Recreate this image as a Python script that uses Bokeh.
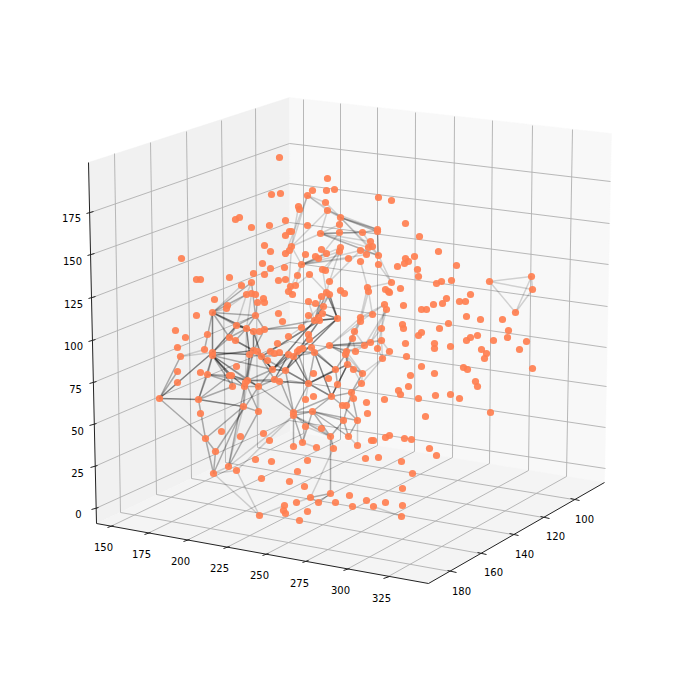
from bokeh.plotting import figure
from bokeh.models import Range1d
from bokeh.core.properties import value
from bokeh.embed import file_html
from bokeh.resources import INLINE

# Screen positions (px) of the projected 3D chart
node_xy = [
(279,157),(327,178),(312,190),(326,190),(334,189),(271,194),(280,193),(307,195),(325,202),(298,206),(299,209),(327,210),(340,217),
(235,219),(239,217),(285,220),(339,224),(269,225),(251,227),(307,225),(289,231),(291,231),(285,235),(320,233),(339,232),(264,245),(270,251),
(291,246),(289,250),(285,253),(305,254),(321,249),(326,253),(340,247),(339,251),(315,256),(318,258),(348,258),(181,258),(262,263),(270,268),
(284,267),(301,264),(322,269),(325,270),(253,273),(264,274),(297,275),(309,274),(196,279),(200,279),(229,277),(278,280),(285,279),(329,281),
(241,285),(251,282),(290,286),(295,285),(288,291),(292,294),(340,290),(344,293),(326,292),(329,294),(321,296),(246,294),(251,293),(255,294),
(263,298),(264,302),(257,302),(214,299),(308,301),(315,303),(323,306),(227,305),(226,308),(212,312),(196,315),(255,315),(278,313),(282,321),
(308,315),(322,313),(318,317),(314,320),(319,320),(337,318),(236,325),(246,328),(253,331),(259,331),(264,329),(301,327),(175,330),(207,334),
(185,337),(288,336),(308,334),(309,339),
(378,197),(391,200),(405,223),(419,236),(377,229),(377,231),(362,232),(370,241),(372,246),(368,247),(360,250),(366,254),(378,255),(360,261),
(438,251),(414,256),(405,258),(408,261),(404,263),(397,266),(378,264),(456,265),(417,269),(418,276),(391,282),(436,283),(441,281),(451,280),
(489,281),(531,276),(532,289),(515,312),(367,287),(368,291),(385,289),(388,291),(389,292),(400,288),(470,294),(446,298),(442,303),(433,304),
(459,301),(465,301),(384,304),(386,309),(403,305),(421,309),(426,309),(372,314),(360,317),(360,321),(466,316),(480,319),(502,319),(402,324),
(403,328),(448,323),(439,328),(508,330),(421,332),(418,335),(354,331),(381,328),(352,338),(381,340),(466,340),(470,337),(477,335),(493,340),
(507,337),(526,341),(405,343),(434,343),(434,348),(450,346),(481,349),(486,353),(484,358),(519,349),(389,351),(406,356),(421,366),(434,373),
(463,367),(467,369),(532,368),(410,375),(408,386),(398,390),(400,394),(475,381),(477,386),(418,398),(435,395),(450,394),(459,398),(490,412),(425,416),
(229,337),(235,340),(177,347),(180,356),(204,349),(212,352),(212,355),(249,354),(253,350),(257,351),(261,356),(270,351),(274,353),(279,352),
(277,343),(267,360),(236,366),(177,371),(200,372),(207,374),(272,369),(229,375),(231,375),(274,379),(279,381),(177,382),(247,380),(245,382),
(232,386),(244,386),(258,386),(159,398),(198,399),(243,406),(258,411),(200,413),(221,431),
(288,354),(293,356),(297,351),(302,348),(299,349),(311,347),(314,352),(329,345),(346,351),(345,354),(355,351),(364,345),(370,342),(377,348),
(382,358),(347,364),(335,369),(353,369),(285,370),(313,373),(328,378),(362,373),(361,383),(308,383),(337,384),(351,392),(331,396),(353,398),
(305,399),(313,396),(366,402),(384,399),(367,413),(342,405),(346,405),(312,411),(293,412),(293,415),(343,420),(357,420),(305,426),(321,428),
(205,438),(240,436),(263,433),(269,440),(302,442),(293,446),(316,447),(215,451),(228,466),(236,470),(213,473),(255,459),(271,461),(307,460),
(297,471),(261,478),(289,481),(304,486),(310,497),(318,502),(296,502),(284,505),(283,510),(285,513),(307,511),(259,515),(299,520),
(330,436),(348,436),(333,448),(357,445),(371,440),(373,440),(385,437),(389,435),(404,438),(411,439),(429,448),(436,455),(365,458),(378,457),
(401,461),(412,473),(402,488),(330,493),(349,495),(335,502),(366,500),(385,502),(352,506),(373,506),(402,505),(401,516),
]
node_x = [a for a, b in node_xy]
node_y = [b for a, b in node_xy]

edges_dark = [
((159,398),(198,399)),((159,398),(212,352)),((212,312),(212,352)),((212,352),(249,354)),((212,355),(253,350)),((212,355),(229,375)),
((212,355),(231,375)),((198,399),(243,406)),((231,375),(244,386)),((231,375),(247,380)),((247,380),(258,386)),((246,328),(253,331)),
((212,312),(246,328)),((253,331),(253,350)),((257,351),(272,369)),((261,356),(272,369)),((272,369),(285,370)),((272,369),(288,354)),
((274,379),(288,354)),((285,370),(299,349)),((272,369),(314,320)),((285,370),(337,318)),((261,356),(319,320)),((297,351),(319,320)),
((299,349),(337,318)),((314,320),(337,318)),((322,313),(337,318)),((326,292),(337,318)),((329,294),(337,318)),((293,356),(308,383)),
((314,352),(335,369)),((314,352),(331,396)),((308,383),(331,396)),((308,383),(347,364)),((331,396),(347,364)),((212,352),(236,325)),
((280,381),(308,383)),((246,328),(249,354)),((253,331),(261,356)),((236,325),(246,328)),((285,370),(308,383)),((293,356),(302,348)),
]
edges_mid = [
((159,398),(177,371)),((159,398),(205,438)),((159,398),(180,356)),((212,312),(204,349)),((212,312),(236,325)),((212,312),(255,315)),
((212,312),(229,337)),((212,352),(229,337)),((212,355),(232,386)),((212,355),(272,369)),((212,355),(247,380)),((212,355),(258,386)),
((198,399),(212,355)),((198,399),(207,374)),((198,399),(229,375)),((198,399),(232,386)),((207,374),(229,375)),((207,374),(212,355)),
((207,374),(244,386)),((207,374),(247,380)),((231,375),(232,386)),((244,386),(258,386)),((244,386),(243,406)),((245,382),(258,411)),
((243,406),(258,411)),((247,380),(272,369)),((236,325),(253,331)),((236,325),(255,315)),((246,328),(255,315)),((229,337),(236,325)),
((229,337),(246,328)),((229,337),(253,350)),((235,340),(246,328)),((235,340),(253,350)),((255,315),(264,329)),((251,282),(255,315)),
((246,294),(212,312)),((212,312),(251,282)),((264,329),(301,327)),((264,329),(314,320)),((249,354),(261,356)),((257,351),(274,379)),
((249,354),(247,380)),((249,354),(245,382)),((253,350),(244,386)),((261,356),(285,370)),((274,379),(280,381)),((285,370),(274,379)),
((285,370),(293,356)),((261,356),(288,354)),((272,369),(302,348)),((314,352),(308,383)),((297,351),(308,383)),((314,352),(293,356)),
((302,348),(311,347)),((311,347),(314,352)),((297,351),(314,352)),((311,347),(335,369)),((308,383),(335,369)),((308,383),(293,412)),
((293,412),(312,411)),((293,415),(312,411)),((312,411),(331,396)),((331,396),(351,392)),((331,396),(342,405)),((342,405),(357,420)),
((312,411),(343,420)),((312,411),(357,420)),((351,392),(357,420)),((351,392),(343,420)),((335,369),(337,384)),((337,384),(331,396)),
((347,364),(337,384)),((345,354),(335,369)),((346,351),(347,364)),((345,354),(347,364)),((347,364),(362,373)),((362,373),(351,392)),
((361,383),(351,392)),((329,345),(370,342)),((329,345),(364,345)),((329,345),(345,354)),((314,352),(329,345)),((329,345),(346,351)),
((205,438),(198,399)),((205,438),(215,451)),((205,438),(213,473)),((215,451),(213,473)),((205,438),(243,406)),((213,473),(243,406)),
((228,466),(258,411)),((228,466),(244,386)),((215,451),(258,386)),((293,412),(280,381)),((293,412),(285,370)),((258,386),(293,412)),
((293,412),(331,396)),((308,315),(314,320)),((323,306),(314,320)),((326,292),(314,320)),((321,296),(314,320)),((329,294),(314,320)),
((319,320),(337,318)),((293,415),(302,442)),((293,415),(293,446)),((312,411),(302,442)),((312,411),(330,436)),((312,411),(348,436)),
((293,415),(330,436)),((343,420),(330,436)),((343,420),(348,436)),((357,420),(348,436)),((330,436),(333,448)),((330,436),(330,493)),
((330,493),(310,497)),((330,493),(318,502)),((247,380),(274,379)),((258,386),(272,369)),((258,386),(274,379)),((247,380),(280,381)),
((340,217),(377,229)),((340,217),(377,231)),((377,231),(378,255)),((320,233),(362,232)),((320,233),(378,255)),((264,329),(253,350)),
]
edges_light = [
((180,356),(204,349)),((180,356),(212,352)),((246,294),(226,308)),((212,312),(226,308)),((251,282),(246,294)),((257,302),(255,315)),
((246,294),(236,325)),((251,293),(246,328)),((241,285),(212,312)),((247,380),(253,350)),((245,382),(246,328)),((243,406),(247,380)),
((258,386),(258,411)),((308,383),(305,399)),((342,405),(353,398)),((353,369),(362,373)),((347,364),(353,369)),((362,373),(361,383)),
((362,373),(382,358)),((361,383),(382,358)),((382,358),(389,351)),((381,340),(382,358)),((377,348),(382,358)),((381,340),(389,351)),
((381,340),(377,348)),((370,342),(381,340)),((364,345),(370,342)),((364,345),(346,351)),((355,351),(364,345)),((346,351),(355,351)),
((329,345),(381,340)),((345,354),(361,383)),((345,354),(362,373)),((346,351),(362,373)),((360,317),(345,351)),((360,321),(346,351)),
((360,321),(329,345)),((360,317),(329,345)),((384,304),(360,321)),((384,304),(360,317)),((386,309),(381,328)),((384,304),(381,328)),
((386,309),(370,342)),((381,328),(377,348)),((381,340),(381,328)),((381,328),(370,342)),((386,309),(364,345)),((354,331),(345,351)),
((352,338),(346,351)),((354,331),(364,345)),((352,338),(355,351)),((360,321),(354,331)),((360,317),(372,314)),((308,301),(314,320)),
((301,327),(329,294)),((301,327),(288,336)),((301,327),(308,315)),((213,473),(228,466)),((213,473),(236,470)),((213,473),(259,515)),
((236,470),(259,515)),((228,466),(243,406)),((228,466),(293,415)),((236,470),(293,415)),((259,515),(284,505)),((293,412),(305,426)),
((293,415),(321,428)),((305,426),(302,442)),((321,428),(330,436)),((305,426),(330,436)),((357,420),(357,445)),((348,436),(357,445)),
((302,442),(316,447)),((310,497),(333,448)),((296,502),(310,497)),((310,497),(318,502)),((373,506),(401,516)),
((307,195),(325,202)),((307,195),(327,210)),((307,195),(340,217)),((325,202),(340,217)),((327,210),(340,217)),((327,210),(377,229)),
((340,217),(339,224)),((339,224),(320,233)),((362,232),(377,229)),((320,233),(377,231)),((362,232),(378,255)),((320,233),(370,241)),
((320,233),(368,247)),((340,217),(378,255)),((340,217),(368,247)),((327,210),(320,233)),((307,195),(291,246)),((307,195),(285,253)),
((327,210),(291,246)),((298,206),(291,246)),((320,233),(291,246)),((301,264),(291,246)),((301,264),(305,254)),((301,264),(339,251)),
((301,264),(326,253)),((301,264),(340,247)),((301,264),(348,258)),((301,264),(318,258)),((301,264),(360,250)),((301,264),(366,254)),
((360,250),(378,255)),((360,250),(366,254)),((309,274),(326,292)),((322,269),(326,292)),((329,281),(326,292)),((339,251),(329,281)),
((322,269),(339,251)),((318,258),(339,232)),((360,250),(329,281)),((340,247),(325,270)),((301,264),(288,291)),((301,264),(295,285)),
((309,274),(295,285)),((290,286),(292,294)),((288,291),(291,246)),((378,255),(391,282)),((378,264),(391,282)),((391,282),(367,287)),
((367,287),(368,291)),((367,287),(360,317)),((368,291),(360,321)),((368,291),(372,314)),((360,261),(367,287)),
((489,281),(531,276)),((489,281),(532,289)),((489,281),(515,312)),((531,276),(515,312)),((532,289),(515,312)),((531,276),(532,289)),
]

# Pane outlines
left_pane = [(88,162),(289,97),(290,431),(96,523)]
right_pane = [(289,97),(611,133),(604,482),(290,431)]
floor_pane = [(96,523),(290,431),(604,482),(428,583)]
left_pane_color, right_pane_color, floor_pane_color = "#f1f1f1", "#f8f8f8", "#f4f4f4"

# Tick labels and their anchors
z_labels = ["175", "150", "125", "100", "75", "50", "25", "0"]
z_label_xy = [(71,217),(72,260),(73,303),(73,345),(75,388),(77,430),(77,472),(78,513)]
z_tick_xy = [(90,212),(91,254),(92,297),(92,340),(93,382),(93,424),(94,466),(95,508)]
z_back_xy = [(289,143),(289,183),(289,222),(289,262),(289,301),(289,341),(289,380),(289,420)]
z_right_xy = [(610,181),(609,223),(608,264),(607,306),(606,347),(606,386),(605,427),(605,468)]

x_labels = ["150", "175", "200", "225", "250", "275", "300", "325"]
x_label_xy = [(103,546),(141,553),(180,560),(219,567),(259,574),(299,582),(340,589),(381,597)]
x_tick_xy = [(110,526),(147,533),(186,540),(226,547),(265,554),(305,561),(346,569),(386,577)]
x_floor_xy = [(303,433),(340,439),(377,445),(414,451),(452,457),(489,463),(528,470),(566,476)]
x_top_xy = [(303,99),(340,103),(377,107),(415,112),(454,116),(492,120),(532,125),(572,129)]

y_labels = ["180", "160", "140", "120", "100"]
y_label_xy = [(461,590),(493,571),(524,553),(555,535),(584,518)]
y_tick_xy = [(450,571),(480,553),(512,534),(543,517),(573,499)]
y_floor_xy = [(120,512),(156,494),(191,478),(225,462),(257,447)]
y_top_xy = [(114,153),(150,142),(186,131),(221,120),(255,108)]

axis_path = [(88,162),(96,523),(428,583),(604,482)]


def xs(pts):
    return [a for a, b in pts]


def ys(pts):
    return [b for a, b in pts]


p = figure(width=675, height=657, x_range=Range1d(0, 675), y_range=Range1d(657, 0),
           output_backend="svg", toolbar_location=None, min_border=0,
           background_fill_color="white", border_fill_color="white")
p.axis.visible = False
p.grid.visible = False
p.outline_line_color = None

for pane, col in [(left_pane, left_pane_color), (right_pane, right_pane_color), (floor_pane, floor_pane_color)]:
    p.patch(xs(pane), ys(pane), fill_color=col, line_color=col, line_width=0.5)

# Grid
gx, gy = [], []
for a, b in zip(z_tick_xy, z_back_xy):
    gx.append([a[0], b[0]]); gy.append([a[1], b[1]])
for a, b in zip(z_back_xy, z_right_xy):
    gx.append([a[0], b[0]]); gy.append([a[1], b[1]])
for a, b, c in zip(x_tick_xy, x_floor_xy, x_top_xy):
    gx.append([a[0], b[0], c[0]]); gy.append([a[1], b[1], c[1]])
for a, b, c in zip(y_tick_xy, y_floor_xy, y_top_xy):
    gx.append([a[0], b[0], c[0]]); gy.append([a[1], b[1], c[1]])
p.multi_line(gx, gy, line_color="#b0b0b0", line_width=0.9)

# Axis lines and ticks
p.line(xs(axis_path), ys(axis_path), line_color="#222222", line_width=1)
tx, ty = [], []
for a in z_tick_xy:
    tx.append([a[0]-4, a[0]+3]); ty.append([a[1]+1, a[1]-1])
for a in x_tick_xy:
    tx.append([a[0]-3, a[0]+3]); ty.append([a[1]+1, a[1]-1])
for a in y_tick_xy:
    tx.append([a[0]-3, a[0]+6]); ty.append([a[1]-1, a[1]+1])
p.multi_line(tx, ty, line_color="#222222", line_width=1)

# Network edges
for group, alpha in [(edges_light, 0.16), (edges_mid, 0.3), (edges_dark, 0.48)]:
    p.multi_line([[e[0][0], e[1][0]] for e in group], [[e[0][1], e[1][1]] for e in group],
                 line_color="black", line_alpha=alpha, line_width=1.5)

# Nodes
p.scatter(node_x, node_y, size=7.2, fill_color="#ff7f50", fill_alpha=0.92, line_color=None)

# Tick labels
for labels, pts in [(z_labels, z_label_xy), (x_labels, x_label_xy), (y_labels, y_label_xy)]:
    p.text(xs(pts), ys(pts), text=labels, text_font=value("DejaVu Sans"), text_font_size="10px",
           text_color="black", text_align="center", text_baseline="middle")

open("out.html", "w").write(file_html(p, INLINE))
